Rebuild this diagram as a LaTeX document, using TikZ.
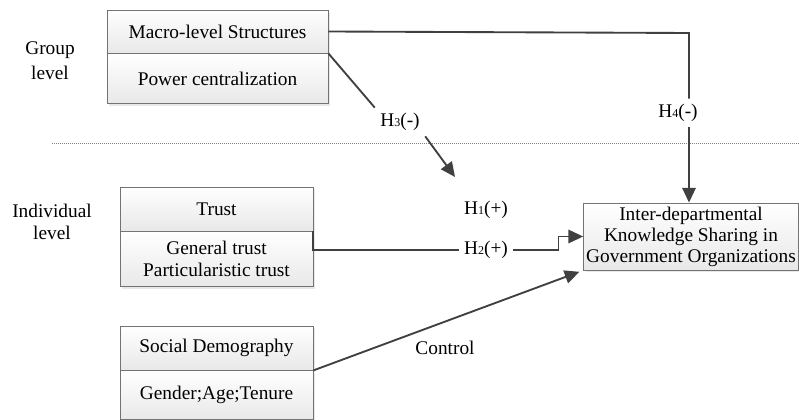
\documentclass[tikz,border=0pt]{standalone}
\usepackage{fontspec}
\setmainfont{Liberation Serif}
\usetikzlibrary{positioning,shadows,arrows.meta}

\begin{document}
\begin{tikzpicture}[x=0.75pt, y=-0.75pt, font=\fontsize{14.5}{16.5}\selectfont]
\tikzstyle{cell}=[draw=black!55, line width=0.6pt, top color=white, bottom color=black!9,
                  drop shadow={shadow xshift=1.5pt, shadow yshift=-1.5pt, fill=black!18},
                  inner sep=2pt, align=center]
\tikzstyle{link}=[draw=black!75, line width=1.4pt]
\tikzstyle{tag}=[inner sep=4pt, align=center]
\tikzset{>={Triangle[length=11pt,width=10pt]}}
\useasboundingbox (0,0) rectangle (799,420);
% group level
\node[cell, minimum width=165.75pt, minimum height=32.25pt] (macro) at (217.5,31.5) {Macro-level Structures};
\node[cell, minimum width=165.75pt, minimum height=37.5pt, below=0pt of macro] (power) {Power centralization};
% individual level
\node[cell, minimum width=144.75pt, minimum height=33pt] (trust) at (216.5,209) {Trust};
\node[cell, minimum width=144.75pt, minimum height=41.25pt, below=0pt of trust] (trustsub) {General trust\\Particularistic trust};
\node[cell, minimum width=144.75pt, minimum height=33pt] (social) at (216.5,348) {Social Demography};
\node[cell, minimum width=144.75pt, minimum height=36.75pt, below=0pt of social] (socialsub) {Gender;Age;Tenure};
\node[cell, minimum width=159pt, minimum height=50.25pt, font=\fontsize{14.5}{15.75}\selectfont] (target) at (691,236.5)
     {Inter-departmental\\Knowledge Sharing in\\Government Organizations};
% labels
\node[tag, font=\fontsize{14.5}{18.5}\selectfont] (grp) at (50,61) {Group\\level};
\node[tag, font=\fontsize{14.5}{16}\selectfont] (ind) at (52,222) {Individual\\level};
\node[tag] (hthree) at (400,122) {H{\small 3}(-)};
\node[tag] (hfour) at (678,113) {H{\small 4}(-)};
\node[tag] (hone) at (486,210) {H{\small 1}(+)};
\node[tag] (htwo) at (486,250) {H{\small 2}(+)};
\node[tag] (ctrl) at (445,348) {Control};
\coordinate (bend) at (689,33);
\coordinate (htip) at (455,177);
\draw[black!50, densely dotted, line width=0.5pt] (52,143) -- (799,143);
\draw[link] (macro.east) -- (bend) -- (bend |- hfour.north);
\draw[link,->] (bend |- hfour.south) -- (bend |- target.north);
\draw[link] (power.north east) -- (hthree.north west);
\draw[link,->] (hthree.south east) -- (htip);
\draw[link] (trust.south east) -- (trust.south east |- htwo) -- (htwo.west);
\draw[link,->] (htwo.east) -- ++(45,0) |- (target.west);
\draw[link,->, shorten >=3pt] (socialsub.north east) -- (target.south west);
\end{tikzpicture}
\end{document}
